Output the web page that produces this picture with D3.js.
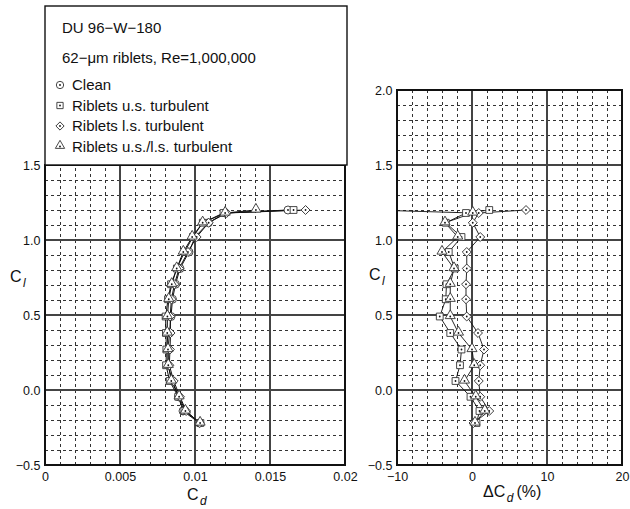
<!DOCTYPE html>
<html>
<head>
<meta charset="utf-8">
<script src="https://cdn.jsdelivr.net/npm/d3@7"></script>
<style>
  body { margin: 0; background: #fff; }
  svg text { font-family: "Liberation Sans", Arial, Helvetica, sans-serif; fill: #111; }
</style>
</head>
<body>
<svg id="chart" width="630" height="509"></svg>
<script>
// lift coefficient levels (one per angle of attack)
const cl = [-0.22, -0.14, -0.045, 0.06, 0.165, 0.27, 0.38, 0.49, 0.605, 0.705, 0.81, 0.92, 1.02, 1.115, 1.18, 1.20];

// drag coefficient per configuration
const cdClean    = [0.0103, 0.0092, 0.0089, 0.0085, 0.0082, 0.0082, 0.0083, 0.0084, 0.0085, 0.0087, 0.0090, 0.0096, 0.0100, 0.0109, 0.0120, 0.0162];
const cdUpper    = [0.01036, 0.00929, 0.00888, 0.00831, 0.00807, 0.00809, 0.00806, 0.00804, 0.00820, 0.00840, 0.00879, 0.00930, 0.00986, 0.01052, 0.01190, 0.01657];
const cdLower    = [0.01032, 0.00941, 0.00900, 0.00858, 0.00829, 0.00833, 0.00837, 0.00834, 0.00843, 0.00863, 0.00894, 0.00953, 0.01011, 0.01091, 0.01211, 0.01737];
const cdBoth     = [0.01034, 0.00936, 0.00894, 0.00842, 0.00822, 0.00820, 0.00815, 0.00816, 0.00825, 0.00845, 0.00878, 0.00922, 0.00981, 0.01051, 0.01201, 0.01406];

// change in drag vs clean, %
const dUpper = [0.6, 1.0, -0.2, -2.2, -1.6, -1.4, -2.9, -4.3, -3.5, -3.4, -2.3, -3.1, -1.4, -3.5, -0.8, 2.3];
const dLower = [0.2, 2.3, 1.1, 0.9, 1.1, 1.6, 0.8, -0.7, -0.8, -0.8, -0.7, -0.7, 1.1, 0.1, 0.9, 7.2];
const dBoth  = [0.4, 1.7, 0.5, -1.0, 0.3, 0.0, -1.8, -2.9, -2.9, -2.9, -2.4, -4.0, -1.9, -3.6, 0.1, -13.2];

const seriesNames = ["Clean", "Riblets u.s. turbulent", "Riblets l.s. turbulent", "Riblets u.s./l.s. turbulent"];
const seriesShapes = ["circle", "square", "diamond", "triangle"];

const xTicksL = [0, 0.005, 0.01, 0.015, 0.02];
const xTickLabelsL = ["0", "0.005", "0.01", "0.015", "0.02"];
const yTicksL = [-0.5, 0, 0.5, 1.0, 1.5];
const yTickLabelsL = ["\u22120.5", "0.0", "0.5", "1.0", "1.5"];
const xTicksR = [-10, 0, 10, 20];
const xTickLabelsR = ["\u221210", "0", "10", "20"];
const yTicksR = [-0.5, 0, 0.5, 1.0, 1.5, 2.0];
const yTickLabelsR = ["\u22120.5", "0.0", "0.5", "1.0", "1.5", "2.0"];

const svg = d3.select("#chart");

const xL = d3.scaleLinear().domain([0, 0.02]).range([45, 345]);
const yL = d3.scaleLinear().domain([-0.5, 1.5]).range([465, 165]);
const xR = d3.scaleLinear().domain([-10, 20]).range([397, 622]);
const yR = d3.scaleLinear().domain([-0.5, 2.0]).range([465, 90]);

function symbolPath(shape, big) {
  const k = big ? 1 : 0.85;
  if (shape === "circle") return d3.symbol(d3.symbolCircle, 50 * k)();
  if (shape === "square") return d3.symbol(d3.symbolSquare, 46 * k)();
  if (shape === "diamond") return d3.symbol(d3.symbolSquare, 40 * k)();
  return d3.symbol(d3.symbolTriangle, 44 * k)();
}

function drawMarker(g, shape, x, y, big) {
  const m = g.append("g").attr("transform", `translate(${x},${y})`);
  m.append("path")
    .attr("d", symbolPath(shape, big))
    .attr("transform", shape === "diamond" ? "rotate(45)" : (shape === "triangle" ? "translate(0,-0.8)" : null))
    .attr("fill", "#fff")
    .attr("stroke", "#333")
    .attr("stroke-width", 0.9);
  m.append("circle").attr("r", 0.9).attr("fill", "#111");
}

// grid, frame and axes for one panel
function panel(x, y, xt, xl, yt, yl, id) {
  const [x0, x1] = x.range();
  const [y0, y1] = y.range();
  const g = svg.append("g").attr("shape-rendering", "crispEdges");

  const xStep = (x.domain()[1] - x.domain()[0]) / (xt.length - 1) / 5;
  const xMinor = d3.range(0, 16).map(i => x.domain()[0] + xStep * i);
  const yMinor = d3.range(0, 26).map(i => y.domain()[0] + 0.1 * i).filter(v => v <= y.domain()[1] + 1e-9);

  g.append("g").selectAll("line").data(xMinor).join("line")
    .attr("x1", d => x(d)).attr("x2", d => x(d))
    .attr("y1", y0).attr("y2", y1)
    .attr("stroke", "#333").attr("stroke-width", 1)
    .attr("stroke-dasharray", "3,3");
  g.append("g").selectAll("line").data(yMinor).join("line")
    .attr("y1", d => y(d)).attr("y2", d => y(d))
    .attr("x1", x0).attr("x2", x1)
    .attr("stroke", "#333").attr("stroke-width", 1)
    .attr("stroke-dasharray", "3,3");

  g.append("g").selectAll("line").data(xt).join("line")
    .attr("x1", d => x(d)).attr("x2", d => x(d))
    .attr("y1", y0).attr("y2", y1)
    .attr("stroke", "#444").attr("stroke-width", 1.2);
  g.append("g").selectAll("line").data(yt).join("line")
    .attr("y1", d => y(d)).attr("y2", d => y(d))
    .attr("x1", x0).attr("x2", x1)
    .attr("stroke", "#444").attr("stroke-width", 1.2);

  g.append("rect")
    .attr("x", x0).attr("y", y1)
    .attr("width", x1 - x0).attr("height", y0 - y1)
    .attr("fill", "none").attr("stroke", "#111").attr("stroke-width", 1.6);

  const ax = svg.append("g")
    .attr("transform", `translate(0,${y0})`)
    .call(d3.axisBottom(x).tickValues(xt).tickSize(0).tickPadding(7.5).tickFormat((d, i) => xl[i]));
  ax.select(".domain").remove();
  ax.selectAll("text").attr("font-size", 12.5).style("font-family", "Liberation Sans, Arial, sans-serif").attr("fill", "#111");

  const ay = svg.append("g")
    .attr("transform", `translate(${x0},0)`)
    .call(d3.axisLeft(y).tickValues(yt).tickSize(0).tickPadding(4.5).tickFormat((d, i) => yl[i]));
  ay.select(".domain").remove();
  ay.selectAll("text").attr("font-size", 12.5).style("font-family", "Liberation Sans, Arial, sans-serif").attr("fill", "#111");

  svg.append("clipPath").attr("id", id)
    .append("rect").attr("x", x0).attr("y", y1).attr("width", x1 - x0).attr("height", y0 - y1);
}

panel(xL, yL, xTicksL, xTickLabelsL, yTicksL, yTickLabelsL, "clipL");
panel(xR, yR, xTicksR, xTickLabelsR, yTicksR, yTickLabelsR, "clipR");

// left panel: Cl vs Cd
const leftSeries = [cdClean, cdUpper, cdLower, cdBoth];
const gl = svg.append("g").attr("clip-path", "url(#clipL)");
const lineL = d3.line().x(d => xL(d[0])).y(d => yL(d[1]));
leftSeries.forEach(s => {
  gl.append("path").datum(s.map((v, i) => [v, cl[i]]))
    .attr("d", lineL).attr("fill", "none").attr("stroke", "#111").attr("stroke-width", 1);
});
leftSeries.forEach((s, k) => {
  s.forEach((v, i) => drawMarker(gl, seriesShapes[k], xL(v), yL(cl[i]), true));
});

// right panel: Cl vs delta Cd
const rightSeries = [dUpper, dLower, dBoth];
const gr = svg.append("g").attr("clip-path", "url(#clipR)");
const lineR = d3.line().x(d => xR(d[0])).y(d => yR(d[1]));
rightSeries.forEach(s => {
  gr.append("path").datum(s.map((v, i) => [v, cl[i]]))
    .attr("d", lineR).attr("fill", "none").attr("stroke", "#111").attr("stroke-width", 0.9);
});
rightSeries.forEach((s, k) => {
  s.forEach((v, i) => drawMarker(gr, seriesShapes[k + 1], xR(v), yR(cl[i]), true));
});

// axis titles
function coefTitle(x, y, pre, sub, post) {
  const t = svg.append("text").attr("x", x).attr("y", y).attr("font-size", 16);
  t.append("tspan").text(pre);
  t.append("tspan").attr("font-size", 12).attr("font-style", "italic").attr("dy", 5).attr("dx", 1.5).text(sub);
  if (post) t.append("tspan").attr("dy", -5).attr("dx", 3).text(post);
}
coefTitle(10, 282, "C", "l");
coefTitle(369, 280, "C", "l");
coefTitle(187, 500, "C", "d");
coefTitle(483, 497, "\u0394C", "d", "(%)");

// legend box
const lg = svg.append("g");
lg.append("rect").attr("x", 45).attr("y", 6).attr("width", 302).attr("height", 159)
  .attr("fill", "#fff").attr("stroke", "#111").attr("stroke-width", 1.4);
lg.append("text").attr("x", 62).attr("y", 33).attr("font-size", 15).text("DU 96\u2212W\u2212180");
lg.append("text").attr("x", 62).attr("y", 63).attr("font-size", 15).text("62\u2212\u03bcm riblets, Re=1,000,000");
seriesNames.forEach((name, i) => {
  const yy = 90 + i * 20.5;
  drawMarker(lg, seriesShapes[i], 60, yy - 5, false);
  lg.append("text").attr("x", 72).attr("y", yy).attr("font-size", 15).text(name);
});
</script>
</body>
</html>
